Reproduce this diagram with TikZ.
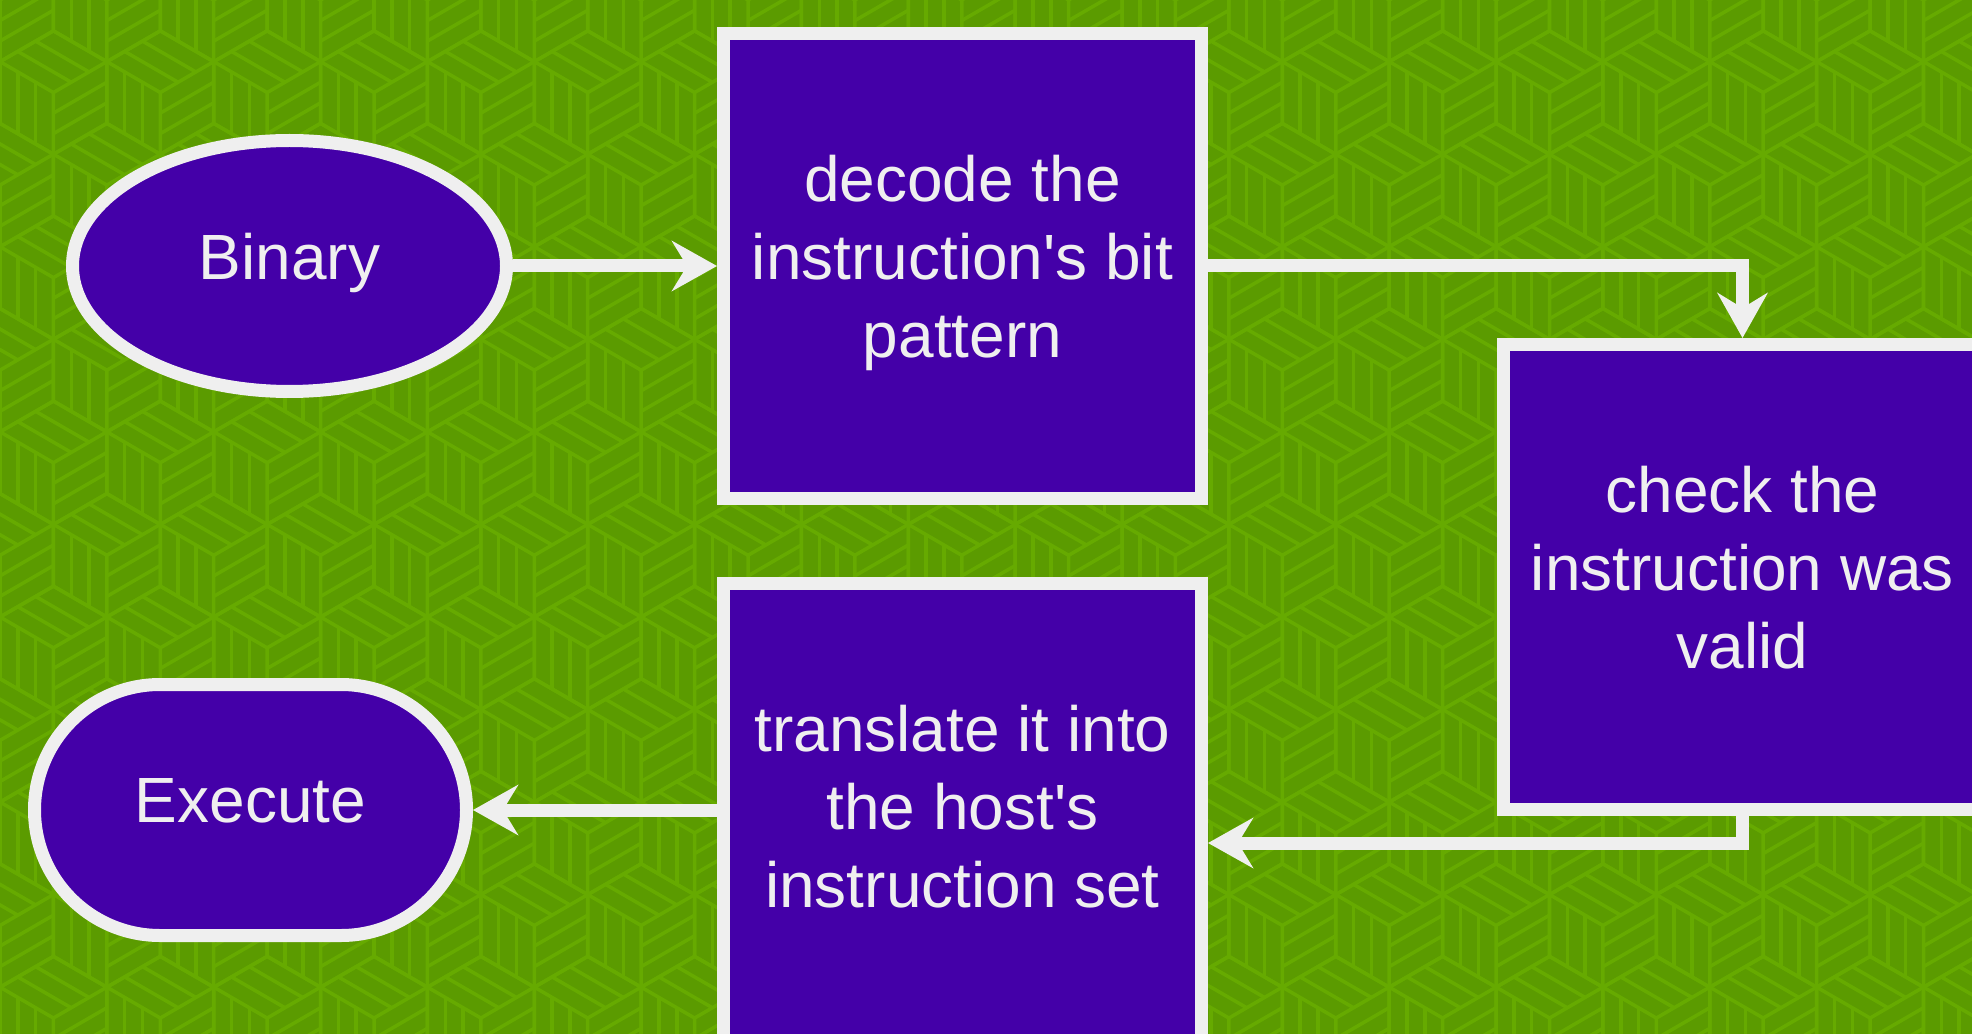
\documentclass[tikz,border=0pt]{standalone}
\usepackage{fontspec}
\setmainfont{Liberation Sans}
\usetikzlibrary{arrows.meta,positioning,shapes.geometric}
\definecolor{bggreen}{HTML}{5B9B00}
\definecolor{tilegreen}{HTML}{66AA00}
\definecolor{boxpurple}{HTML}{4400A8}
\definecolor{edgewhite}{HTML}{EFEFEF}
% fixed line height so every label sits the same way in its box
\newcommand\labelstrut{\rule[-0.30em]{0pt}{0.80em}}
\tikzset{
  block/.style={draw=edgewhite, line width=1.3mm, fill=boxpurple, text=edgewhite,
    align=center, inner sep=0pt, font=\fontsize{18.2pt}{22.2pt}\selectfont,
    execute at begin node=\labelstrut, execute at end node=\labelstrut},
  stepblock/.style={block, rectangle, minimum width=4.78cm, minimum height=4.65cm},
  startblock/.style={block, ellipse, minimum width=4.34cm, minimum height=2.51cm},
  endblock/.style={block, rectangle, rounded corners=1.255cm,
    minimum width=4.32cm, minimum height=2.51cm},
  arr/.style={-{Stealth[length=4.5mm,width=5mm,inset=1.5mm]}, line width=1.3mm, draw=edgewhite},
  tile/.style={draw=tilegreen, line width=0.35mm},
  % one striped cube of the backdrop
  cube/.pic={
    \draw[tile] (-0.534,0.309) -- (0,0.617) -- (0.534,0.309) -- (0.534,-0.309)
      -- (0,-0.617) -- (-0.534,-0.309) -- cycle;
    \draw[tile] (-0.534,0.309) -- (0,0) -- (0.534,0.309) (0,0) -- (0,-0.617);
    \draw[tile] (-0.178,0.103) -- (-0.178,-0.514) (-0.356,0.206) -- (-0.356,-0.411);
    \draw[tile] (0,-0.206) -- (0.534,0.103) (0,-0.411) -- (0.534,-0.103);
    \draw[tile] (0.178,0.103) -- (-0.356,0.411) (0.356,0.206) -- (-0.178,0.514);
  }
}

\begin{document}
\begin{tikzpicture}
  % backdrop
  \fill[bggreen] (0,0) rectangle (19.72,-10.34);
  \useasboundingbox (0,0) rectangle (19.72,-10.34);
  \foreach \j in {0,...,12}{
    \foreach \i in {-1,...,19}{
      \pic at ({\i*1.0686+mod(\j,2)*0.5343},{-\j*0.9255}) {cube};
    }
  }

  \node[stepblock] (decode) at (9.625,-2.66) {decode the\\instruction\textquotesingle s bit\\pattern};
  \node[startblock, left=2.04cm of decode] (binary) {Binary};
  \node[stepblock, right=2.89cm of decode, yshift=-3.11cm] (check) {check the\\instruction was\\valid};
  \node[stepblock, below=0.72cm of decode] (trans) {translate it into\\the host\textquotesingle s\\instruction set};
  \node[endblock, left=2.44cm of trans, yshift=0.06cm] (exec) {Execute};

  \draw[arr] (binary) -- (decode);
  \draw[arr] (decode.east) -| (check.north);
  \draw[arr] (check.south) |- ([yshift=-2.7mm]trans.east);
  \draw[arr] (trans.west |- exec.east) -- (exec.east);
\end{tikzpicture}
\end{document}
